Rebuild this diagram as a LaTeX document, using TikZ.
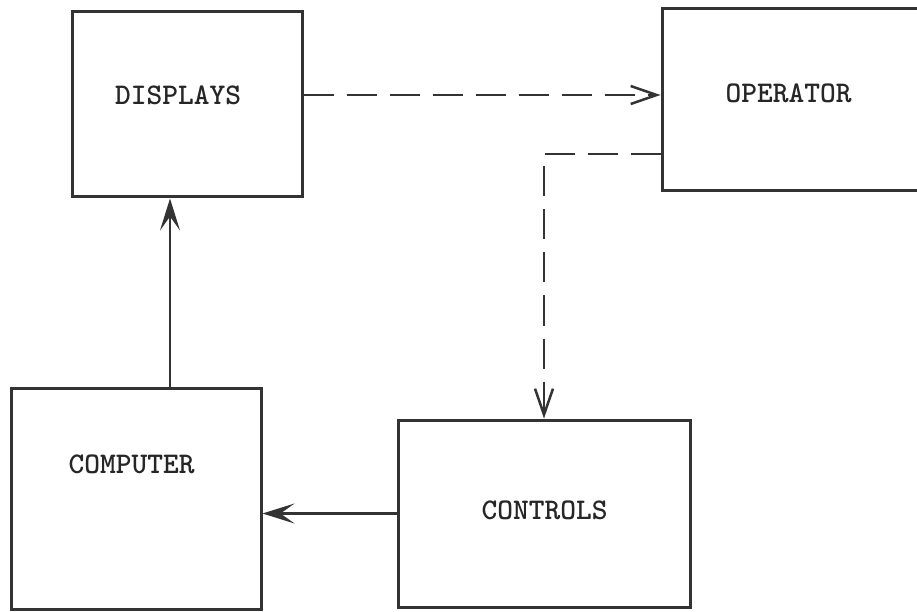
\documentclass[tikz,border=0pt]{standalone}
\usepackage{tikz}
\usetikzlibrary{arrows.meta,positioning}
\usepackage{xcolor}

\begin{document}
\begin{tikzpicture}[
  x=1pt, y=1pt,
  font=\ttfamily\bfseries\fontsize{30}{36}\selectfont,
  blk/.style={draw=black!80, line width=3pt, inner sep=0pt},
  lbl/.style={text=black!85, inner sep=0pt},
  arr/.style={-{Stealth[length=32pt, width=20pt, inset=14pt]}, line width=2.5pt, draw=black!80, fill=black!80},
  dasharr/.style={-{Straight Barb[length=26pt, width=18pt, line width=2.5pt]}, line width=2.5pt,
                  draw=black!80, dash pattern=on 30pt off 13pt}
]
\useasboundingbox (0,0) rectangle (917,611);
\clip (0,0) rectangle (917,611);
% boxes
\node[blk, minimum width=230, minimum height=185] (disp) at (187,506.5) {};
\node[blk, minimum width=273, minimum height=182] (oper) at (798.5,511) {};
\node[blk, minimum width=250, minimum height=221] (comp) at (136,112.5) {};
\node[blk, minimum width=292, minimum height=187] (ctrl) at (544,97.5) {};
% texts
\node[lbl] (displbl) at (178,516) {DISPLAYS};
\node[lbl] (operlbl) at (788.5,518) {OPERATOR};
\node[lbl] (complbl) at (131.5,147) {COMPUTER};
\node[lbl] (ctrllbl) at (544.5,101) {CONTROLS};
% links
\draw[dasharr] (disp.east |- displbl) -- (oper.west |- displbl);
\draw[dasharr] ([yshift=-54pt]oper.west) -| (ctrl.north);
\draw[arr] ([xshift=34pt]comp.north) -- ([xshift=-17pt]disp.south);
\draw[arr] (ctrl.west) -- (ctrl.west -| comp.east);
\end{tikzpicture}
\end{document}
